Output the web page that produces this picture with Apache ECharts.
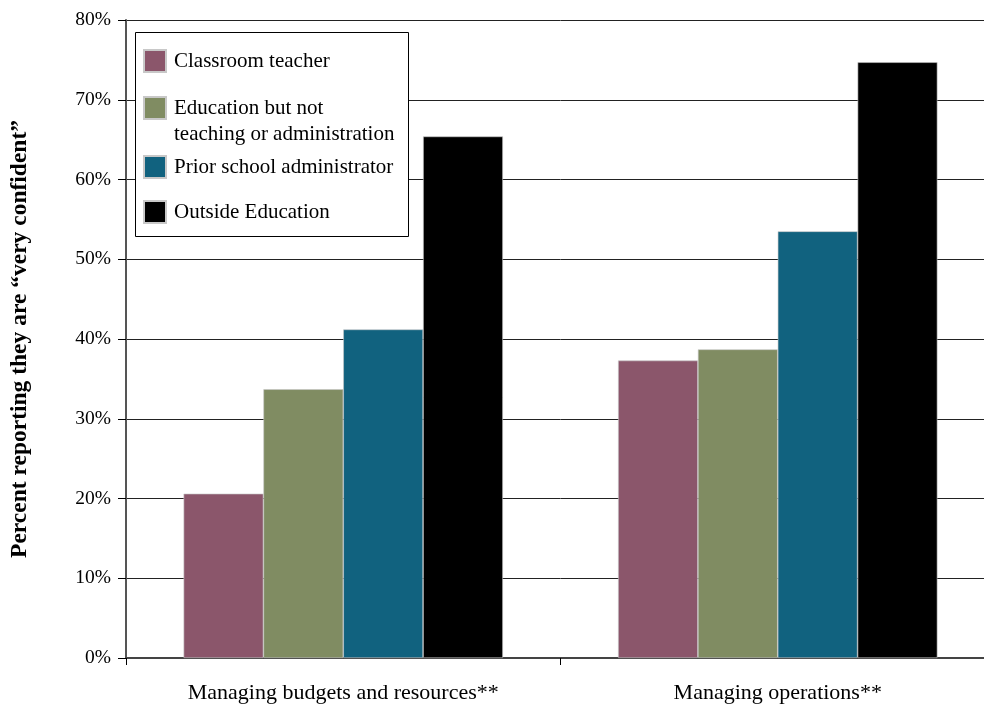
<!DOCTYPE html>
<html>
<head>
<meta charset="utf-8">
<script src="https://cdn.jsdelivr.net/npm/echarts@6/dist/echarts.min.js"></script>
<style>
  html, body { margin: 0; padding: 0; background: #fff; overflow: hidden; }
  #chart { width: 1000px; height: 707px; }
</style>
</head>
<body>
<div id="chart"></div>
<script>
// Share of new principals reporting they are "very confident", by prior career
const categories = ['Managing budgets and resources**', 'Managing operations**'];
const classroomTeacher = [20.6, 37.3];
const educationOther = [33.7, 38.7];
const priorAdministrator = [41.2, 53.5];
const outsideEducation = [65.4, 74.7];
const yTicks = [0, 10, 20, 30, 40, 50, 60, 70, 80];

const seriesNames = [
  'Classroom teacher',
  'Education but not teaching or administration',
  'Prior school administrator',
  'Outside Education'
];
const colors = ['#8B566B', '#808C62', '#11627F', '#000000'];
const values = [classroomTeacher, educationOther, priorAdministrator, outsideEducation];

const FONT = '"Liberation Serif", "DejaVu Serif", serif';
const chart = echarts.init(document.getElementById('chart'));

const legendBase = {
  orient: 'vertical',
  left: 143,
  icon: 'rect',
  itemWidth: 22,
  itemHeight: 22,
  selectedMode: false,
  padding: 0,
  z: 10,
  textStyle: { fontFamily: FONT, fontSize: 21, color: '#000', lineHeight: 22, padding: [0, 0, 0, 3] }
};

chart.setOption({
  animation: false,
  backgroundColor: '#fff',
  // plot area runs slightly past the right edge of the visible page
  grid: { left: 124, top: 20, width: 871, height: 638 },
  legend: [
    Object.assign({}, legendBase, { top: 49, data: [seriesNames[0]] }),
    Object.assign({}, legendBase, {
      top: 69,
      data: [seriesNames[1]],
      // leading empty line keeps the swatch level with the first text line
      formatter: () => '\nEducation but not\nteaching or administration',
      textStyle: Object.assign({}, legendBase.textStyle, { lineHeight: 26 })
    }),
    Object.assign({}, legendBase, { top: 155, data: [seriesNames[2]] }),
    Object.assign({}, legendBase, { top: 200, data: [seriesNames[3]] })
  ],
  graphic: [{
    type: 'rect',
    shape: { x: 135.5, y: 32.5, width: 273, height: 204 },
    style: { fill: '#fff', stroke: '#000', lineWidth: 1 },
    z: 3
  }],
  xAxis: {
    type: 'category',
    data: categories,
    axisLine: { lineStyle: { color: '#444', width: 2 } },
    axisTick: { show: true, length: 7, lineStyle: { color: '#000' } },
    axisLabel: { fontFamily: FONT, fontSize: 22, color: '#000', margin: 24 }
  },
  yAxis: {
    type: 'value',
    min: 0,
    max: 80,
    interval: 10,
    name: 'Percent reporting they are \u201cvery confident\u201d',
    nameLocation: 'middle',
    nameGap: 94,
    nameTextStyle: { fontFamily: FONT, fontSize: 23.5, fontWeight: 'bold', color: '#000' },
    axisLine: { show: true, lineStyle: { color: '#555', width: 2 } },
    axisTick: { show: true, length: 8, lineStyle: { color: '#000' } },
    axisLabel: {
      fontFamily: FONT, fontSize: 19.5, color: '#000', margin: 15,
      formatter: v => (yTicks.includes(v) ? v + '%' : '')
    },
    splitLine: { show: true, lineStyle: { color: '#222', width: 1 } }
  },
  series: values.map((data, i) => ({
    name: seriesNames[i],
    type: 'bar',
    data: data,
    barGap: '0%',
    barCategoryGap: '26.5%',
    itemStyle: { color: colors[i], borderColor: '#c8c8c8', borderWidth: 0.6 },
    z: 2
  }))
});
</script>
</body>
</html>
